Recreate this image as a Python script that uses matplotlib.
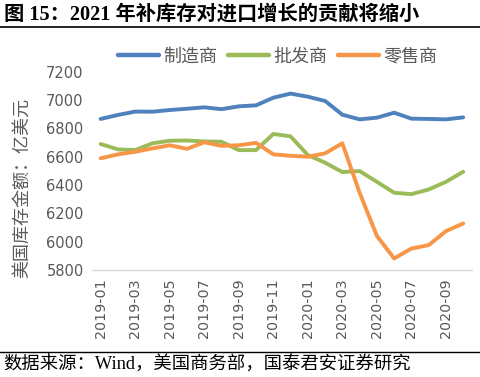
import matplotlib.pyplot as plt
from matplotlib.lines import Line2D

plt.rcParams['font.family'] = ['Noto Sans CJK SC', 'DejaVu Sans']

months = ['2019-01', '2019-02', '2019-03', '2019-04', '2019-05', '2019-06',
          '2019-07', '2019-08', '2019-09', '2019-10', '2019-11', '2019-12',
          '2020-01', '2020-02', '2020-03', '2020-04', '2020-05', '2020-06',
          '2020-07', '2020-08', '2020-09', '2020-10']

manufacturers = [6866, 6894, 6918, 6917, 6929, 6938, 6948, 6935, 6955, 6962, 7016,
                 7045, 7023, 6993, 6896, 6863, 6875, 6910, 6868, 6866, 6863, 6877]
wholesalers = [6689, 6651, 6646, 6694, 6712, 6714, 6707, 6705, 6646, 6646, 6760,
               6743, 6611, 6557, 6491, 6498, 6422, 6345, 6335, 6368, 6422, 6493]
retailers = [6588, 6616, 6634, 6658, 6680, 6655, 6701, 6676, 6680, 6697, 6616,
             6606, 6599, 6623, 6694, 6345, 6040, 5881, 5951, 5975, 6074, 6128]

series_names = ['制造商', '批发商', '零售商']
colors = ['#4F81BD', '#9BBB59', '#F79646']
yticks = [5800, 6000, 6200, 6400, 6600, 6800, 7000, 7200]

title = '图 15：2021 年补库存对进口增长的贡献将缩小'
source = '数据来源：Wind，美国商务部，国泰君安证券研究'
ylabel = '美国库存金额：亿美元'

gray = '#595959'

fig = plt.figure(figsize=(4.8, 3.77), dpi=100)
ax = fig.add_axes([0.1917, 0.284, 0.7913, 0.526])

x = list(range(len(months)))
for vals, col, name in zip([manufacturers, wholesalers, retailers], colors, series_names):
    ax.plot(x, vals, color=col, lw=2.8, label=name, solid_capstyle='round',
            solid_joinstyle='round')

ax.set_xlim(-0.5, len(months) - 0.5)
ax.set_ylim(5800, 7200)
ax.set_yticks(yticks)
ax.set_yticklabels([str(v) for v in yticks], fontsize=10.5, color=gray,
                   family=['DejaVu Sans'])
ax.set_xticks(x[::2])
ax.set_xticklabels(months[::2], rotation=90, fontsize=10.3, color=gray,
                   family=['DejaVu Sans'])
ax.tick_params(axis='both', length=0, pad=6)

for side in ['top', 'right', 'left']:
    ax.spines[side].set_visible(False)
ax.spines['bottom'].set_color('#D9D9D9')
ax.spines['bottom'].set_linewidth(1)

ax.set_ylabel(ylabel, fontsize=13, color=gray)
ax.yaxis.set_label_coords(-0.16, 0.415)

handles = [Line2D([0], [0], color=c, lw=3.2, solid_capstyle='round') for c in colors]
fig.legend(handles, series_names, loc='center', bbox_to_anchor=(0.578, 0.85),
           ncol=3, frameon=False, fontsize=13, handlelength=2.3,
           handletextpad=0.2, columnspacing=0.6, labelcolor=gray)

fig.text(0.008, 0.962, title, fontsize=14.6, fontweight='bold', va='center',
         ha='left', family=['Liberation Serif', 'Noto Sans CJK SC'])
fig.add_artist(Line2D([0, 1], [0.928, 0.928], color='black', lw=1.2))
fig.add_artist(Line2D([0, 1], [0.067, 0.067], color='black', lw=1.0))
fig.text(0.006, 0.032, source, fontsize=13.2, va='center', ha='left',
         family=['Liberation Serif', 'Noto Sans CJK SC'])

fig.savefig('out.png', dpi=100)
